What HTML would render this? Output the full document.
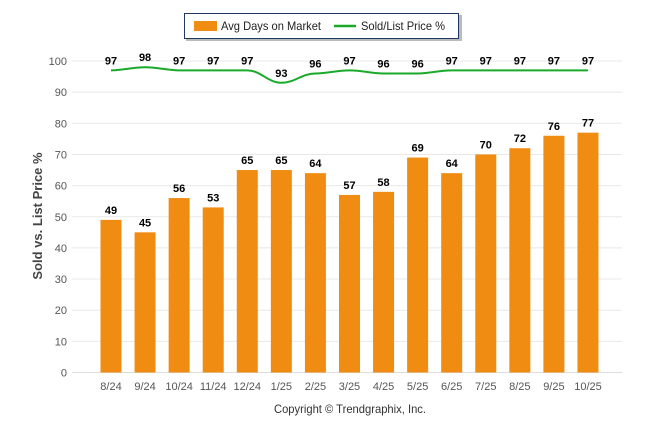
<!DOCTYPE html>
<html><head><meta charset="utf-8"><style>
body{margin:0;background:#fff;font-family:"Liberation Sans",Arial,sans-serif}
svg{display:block}
</style></head><body>
<svg width="646" height="434" viewBox="0 0 646 434">
<g>
<rect x="186" y="15" width="276" height="26" fill="#bbb"/>
<rect x="184.5" y="13.5" width="274" height="25" fill="#fff" stroke="#1f3864"/>
<rect x="194" y="21" width="23" height="10" fill="#f08c12"/>
<text x="221" y="30" font-size="12" textLength="100" lengthAdjust="spacingAndGlyphs" fill="#222">Avg Days on Market</text>
<line x1="334" y1="26" x2="356" y2="26" stroke="#1aaa2a" stroke-width="2.5"/>
<text x="361" y="30" font-size="12" textLength="84" lengthAdjust="spacingAndGlyphs" fill="#222">Sold/List Price %</text>
</g>
<g id="grid"></g><g id="bars"></g><g id="line"></g>
<text transform="translate(42,216) rotate(-90)" text-anchor="middle" font-size="13" font-weight="bold" fill="#444">Sold vs. List Price %</text>
<text x="350" y="413" text-anchor="middle" font-size="12" textLength="152" lengthAdjust="spacingAndGlyphs" fill="#333">Copyright © Trendgraphix, Inc.</text>
</svg>
<script>
const categories=["8/24","9/24","10/24","11/24","12/24","1/25","2/25","3/25","4/25","5/25","6/25","7/25","8/25","9/25","10/25"];
const daysOnMarket=[49,45,56,53,65,65,64,57,58,69,64,70,72,76,77];
const soldListPct=[97,98,97,97,97,93,96,97,96,96,97,97,97,97,97];
const yTicks=[0,10,20,30,40,50,60,70,80,90,100];
const NS="http://www.w3.org/2000/svg";
const y=v=>372.5-v*3.115;
const x=i=>111+i*34.07;
function mk(t,a,p){const e=document.createElementNS(NS,t);for(const k in a)e.setAttribute(k,a[k]);p.appendChild(e);return e;}
const g=document.getElementById('grid'),b=document.getElementById('bars'),l=document.getElementById('line');
yTicks.forEach(v=>{
 const ln=mk('line',{x1:72,x2:622,y1:y(v),y2:y(v),stroke:v===0?'#ddd':'#e8e8e8'},g);
 
 
 const t=mk('text',{x:67,y:y(v)+4,'text-anchor':'end','font-size':11,fill:'#555'},g);t.textContent=v;
 
 
});
categories.forEach((c,i)=>{
 const t=mk('text',{x:x(i),y:390,'text-anchor':'middle','font-size':11,fill:'#555'},g);t.textContent=c;
 
 
 const r=mk('rect',{x:x(i)-10.5,y:y(daysOnMarket[i]),width:21,height:y(0)-y(daysOnMarket[i]),fill:'#f08c12'},b);
 
 
 const bt=mk('text',{x:x(i),y:y(daysOnMarket[i])-6,'text-anchor':'middle','font-size':11,'font-weight':'bold',fill:'#000'},b);bt.textContent=daysOnMarket[i];
 
 
});
let d='';
const pts=soldListPct.map((v,i)=>[x(i),y(v)]);
pts.forEach((p,i)=>{
 if(i===0){d+='M'+p[0]+' '+p[1];return;}
 const q=pts[i-1],dx=(p[0]-q[0])/2.5;
 d+=` C${q[0]+dx} ${q[1]},${p[0]-dx} ${p[1]},${p[0]} ${p[1]}`;
});
const path=mk('path',{d:d,fill:'none',stroke:'#1aaa2a','stroke-width':2},l);


soldListPct.forEach((v,i)=>{
 const t=mk('text',{x:x(i),y:y(v)-6,'text-anchor':'middle','font-size':11,'font-weight':'bold',fill:'#000'},l);t.textContent=v;
 
 
});
</script>
</body></html>
